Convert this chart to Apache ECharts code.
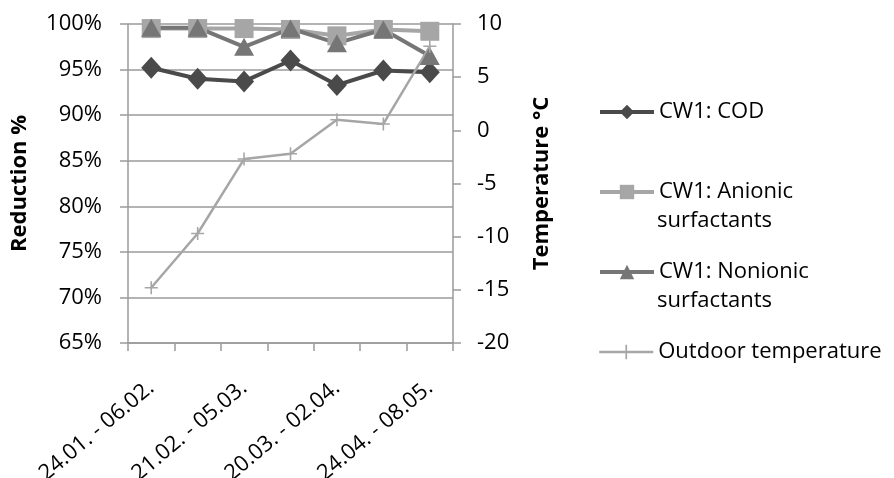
<!DOCTYPE html>
<html>
<head>
<meta charset="utf-8">
<script src="https://cdn.jsdelivr.net/npm/echarts@6/dist/echarts.min.js"></script>
<style>
html,body{margin:0;padding:0;background:#fff;}
#chart{width:894px;height:478px;}
</style>
</head>
<body>
<div id="chart"></div>
<script>
var categories = ['24.01. - 06.02.', '07.02. - 20.02.', '21.02. - 05.03.', '06.03. - 19.03.', '20.03. - 02.04.', '10.04. - 23.04.', '24.04. - 08.05.'];
var codReduction = [95.2, 94.0, 93.7, 96.0, 93.3, 94.9, 94.7];
var anionicReduction = [99.5, 99.5, 99.5, 99.4, 98.7, 99.4, 99.2];
var nonionicReduction = [99.6, 99.6, 97.5, 99.5, 97.9, 99.4, 96.5];
var outdoorTemperature = [-14.8, -9.7, -2.7, -2.2, 1.0, 0.6, 7.9];
var seriesNames = ['CW1: COD', 'CW1: Anionic surfactants', 'CW1: Nonionic surfactants', 'Outdoor temperature'];
var legendFirstLines = ['CW1: COD', 'CW1: Anionic', 'CW1: Nonionic', 'Outdoor temperature'];
var legendSecondLines = ['', 'surfactants', 'surfactants', ''];

var FONT = 'Open Sans';
var FS = 22;
var AXIS_COLOR = '#9a9a9a';
var seriesColors = ['#4a4a4a', '#a6a6a6', '#767676', '#a6a6a6'];
var seriesWidths = [4, 4, 4, 2.5];
var plusPath = 'path://M4.4,0 H5.6 V4.4 H10 V5.6 H5.6 V10 H4.4 V5.6 H0 V4.4 H4.4 Z';

var legendCenters = [112, 192, 272, 352];
var legends = seriesNames.map(function (n, i) {
  return {
    data: [n],
    left: 598,
    top: legendCenters[i] - 13,
    padding: 0,
    itemWidth: 54,
    itemHeight: 18,
    selectedMode: false,
    lineStyle: { width: seriesWidths[i], color: seriesColors[i] },
    formatter: function () { return legendFirstLines[i]; },
    textStyle: { fontFamily: FONT, fontSize: FS, color: '#000', lineHeight: 26 }
  };
});

var graphics = [];
legendSecondLines.forEach(function (t, i) {
  if (t) {
    graphics.push({
      type: 'text', left: 657, top: legendCenters[i] + 31 - 13,
      style: { text: t, font: FS + 'px "' + FONT + '"', fill: '#000' }
    });
  }
});

var chart = echarts.init(document.getElementById('chart'));
chart.setOption({
  animation: false,
  backgroundColor: '#fff',
  textStyle: { fontFamily: FONT },
  grid: { left: 128, right: 441, top: 24, bottom: 135, containLabel: false, outerBoundsMode: 'none' },
  legend: legends,
  graphic: graphics,
  xAxis: {
    type: 'category',
    data: categories,
    boundaryGap: true,
    axisLine: { onZero: false, lineStyle: { color: AXIS_COLOR, width: 1.5 } },
    axisTick: { show: true, interval: 0, length: 8, lineStyle: { color: AXIS_COLOR, width: 1.5 } },
    axisLabel: { interval: 1, rotate: 40, margin: 42, fontFamily: FONT, fontSize: FS, color: '#000' }
  },
  yAxis: [{
    type: 'value', min: 65, max: 100, interval: 5, position: 'left',
    name: 'Reduction %', nameLocation: 'middle', nameRotate: 90, nameGap: 97,
    nameTextStyle: { fontFamily: FONT, fontSize: FS, fontWeight: 'bold', color: '#000' },
    axisLine: { show: true, lineStyle: { color: AXIS_COLOR, width: 1.5 } },
    axisTick: { show: true, length: 8, lineStyle: { color: AXIS_COLOR, width: 1.5 } },
    splitLine: { show: true, lineStyle: { color: AXIS_COLOR, width: 1.5 } },
    axisLabel: { formatter: '{value}%', margin: 26, fontFamily: FONT, fontSize: FS, color: '#000' }
  }, {
    type: 'value', min: -20, max: 10, interval: 5, position: 'right',
    name: 'Temperature °C', nameLocation: 'middle', nameRotate: 90, nameGap: 78,
    nameTextStyle: { fontFamily: FONT, fontSize: FS, fontWeight: 'bold', color: '#000' },
    axisLine: { show: true, lineStyle: { color: AXIS_COLOR, width: 1.5 } },
    axisTick: { show: true, length: 8, lineStyle: { color: AXIS_COLOR, width: 1.5 } },
    splitLine: { show: false },
    axisLabel: { margin: 24, fontFamily: FONT, fontSize: FS, color: '#000' }
  }],
  series: [{
    name: seriesNames[0], type: 'line', yAxisIndex: 0, data: codReduction,
    symbol: 'diamond', symbolSize: [20, 22],
    lineStyle: { color: seriesColors[0], width: seriesWidths[0] }, itemStyle: { color: seriesColors[0] }
  }, {
    name: seriesNames[1], type: 'line', yAxisIndex: 0, data: anionicReduction,
    symbol: 'rect', symbolSize: 19,
    lineStyle: { color: seriesColors[1], width: seriesWidths[1] }, itemStyle: { color: seriesColors[1] }
  }, {
    name: seriesNames[2], type: 'line', yAxisIndex: 0, data: nonionicReduction,
    symbol: 'triangle', symbolSize: [20, 18],
    lineStyle: { color: seriesColors[2], width: seriesWidths[2] }, itemStyle: { color: seriesColors[2] }
  }, {
    name: seriesNames[3], type: 'line', yAxisIndex: 1, data: outdoorTemperature,
    symbol: plusPath, symbolSize: 13,
    lineStyle: { color: seriesColors[3], width: seriesWidths[3] }, itemStyle: { color: seriesColors[3] }
  }]
});
</script>
</body>
</html>
